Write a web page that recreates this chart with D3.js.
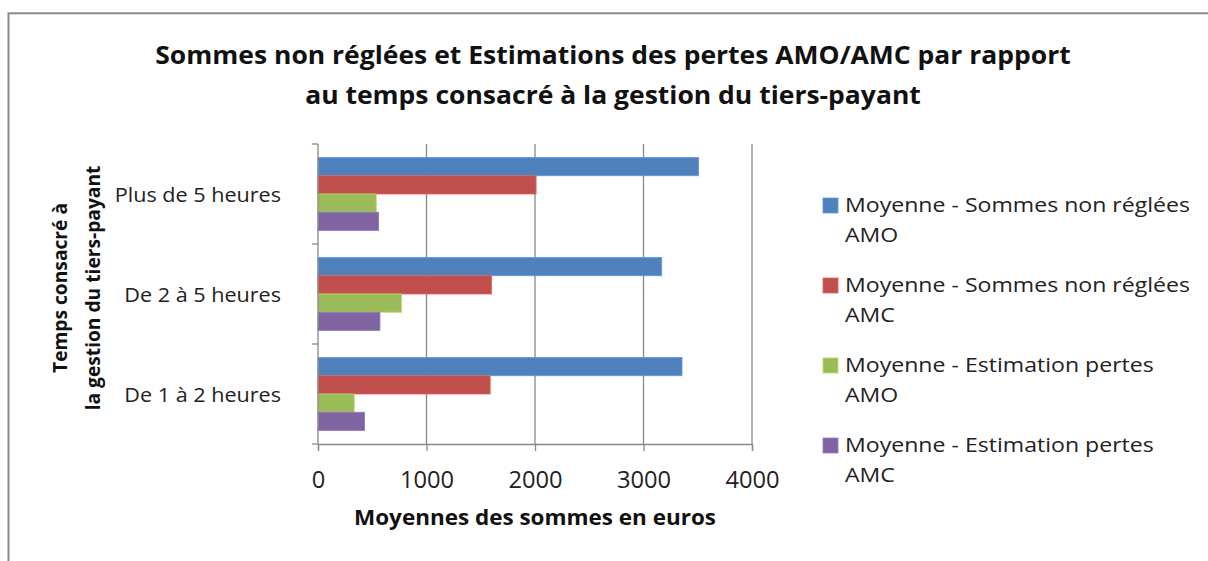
<!DOCTYPE html>
<html>
<head>
<meta charset="utf-8">
<script src="https://cdn.jsdelivr.net/npm/d3@7"></script>
<style>
  html, body { margin: 0; padding: 0; background: #fff; }
  svg { display: block; font-family: "Open Sans", "Liberation Sans", sans-serif; }
</style>
</head>
<body>
<svg id="chart" width="1208" height="561"></svg>
<script>
// Time spent on third-party payment management (top to bottom)
const categories = ["Plus de 5 heures", "De 2 à 5 heures", "De 1 à 2 heures"];

// Series, in the order drawn inside each group
const seriesNames = [
  "Moyenne - Sommes non réglées AMO",
  "Moyenne - Sommes non réglées AMC",
  "Moyenne - Estimation pertes AMO",
  "Moyenne - Estimation pertes AMC"
];
const seriesColors = ["#4F81BD", "#C0504D", "#9BBB59", "#8064A2"];

// Mean amounts in euros, one array per series, aligned with categories
const nonRegleesAMO = [3508, 3168, 3355];
const nonRegleesAMC = [2010, 1600, 1587];
const pertesAMO     = [537, 771, 334];
const pertesAMC     = [559, 571, 430];
const seriesValues = [nonRegleesAMO, nonRegleesAMC, pertesAMO, pertesAMC];

const xTicks = [0, 1000, 2000, 3000, 4000];

const titleLines = [
  "Sommes non réglées et Estimations des pertes AMO/AMC par rapport",
  "au temps consacré à la gestion du tiers-payant"
];
const xTitle = "Moyennes des sommes en euros";
const yTitleLines = ["Temps consacré à", "la gestion du tiers-payant"];

const svg = d3.select("#chart");
const axisGrey = "#898989";

// Chart frame
svg.append("rect")
  .attr("x", 8.5).attr("y", 13.3)
  .attr("width", 1240).attr("height", 600)
  .attr("fill", "#fff")
  .attr("stroke", "#8a8a8a").attr("stroke-width", 2);

const plot = { left: 318, right: 752, top: 144, bottom: 444 };

const x = d3.scaleLinear().domain([0, 4000]).range([plot.left, plot.right]);
const y = d3.scaleBand().domain(categories).range([plot.top, plot.bottom])
  .paddingInner(0.27).paddingOuter(0.135);
const ySub = d3.scaleBand().domain(d3.range(seriesNames.length))
  .range([0, y.bandwidth()]);

// Places a text line at (px, py) with a horizontal stretch factor
function stretchedText(parent, px, py, sx, str, anchor) {
  return parent.append("g")
    .attr("transform", `translate(${px},${py}) scale(${sx},1)`)
    .append("text")
    .attr("text-anchor", anchor)
    .text(str);
}

// Vertical gridlines
svg.append("g")
  .selectAll("line")
  .data(xTicks.slice(1))
  .join("line")
  .attr("x1", d => x(d)).attr("x2", d => x(d))
  .attr("y1", plot.top).attr("y2", plot.bottom)
  .attr("stroke", axisGrey).attr("stroke-width", 1.3);

// Bars
const groups = svg.append("g")
  .selectAll("g")
  .data(categories)
  .join("g")
  .attr("transform", c => `translate(0,${y(c)})`);

groups.selectAll("rect")
  .data((c, ci) => seriesValues.map((vals, si) => ({ si, v: vals[ci] })))
  .join("rect")
  .attr("x", x(0))
  .attr("y", d => ySub(d.si))
  .attr("width", d => x(d.v) - x(0))
  .attr("height", ySub.bandwidth())
  .attr("fill", d => seriesColors[d.si])
  .attr("stroke", d => d3.color(seriesColors[d.si]).brighter(0.5))
  .attr("stroke-width", 0.8);

// X axis
const xAxis = svg.append("g")
  .attr("transform", `translate(0,${plot.bottom})`)
  .call(d3.axisBottom(x).tickValues(xTicks).tickSize(7).tickFormat(d3.format("d")));
xAxis.select(".domain").attr("stroke", axisGrey).attr("stroke-width", 1.3);
xAxis.selectAll(".tick line").attr("stroke", axisGrey).attr("stroke-width", 1.3);
xAxis.selectAll(".tick text")
  .attr("y", 44).attr("dy", 0)
  .attr("transform", "scale(1.03,1)")
  .attr("font-family", "Open Sans").attr("font-size", 23).attr("fill", "#222");

// Y axis: line plus tick marks between categories
svg.append("line")
  .attr("x1", plot.left).attr("x2", plot.left)
  .attr("y1", plot.top).attr("y2", plot.bottom)
  .attr("stroke", axisGrey).attr("stroke-width", 1.3);
const yBounds = d3.range(categories.length + 1)
  .map(i => plot.top + i * (plot.bottom - plot.top) / categories.length);
svg.append("g").selectAll("line")
  .data(yBounds)
  .join("line")
  .attr("x1", plot.left - 6).attr("x2", plot.left)
  .attr("y1", d => d).attr("y2", d => d)
  .attr("stroke", axisGrey).attr("stroke-width", 1.3);

// Category labels
const catLayer = svg.append("g").attr("font-size", 20).attr("fill", "#222");
categories.forEach(c => {
  stretchedText(catLayer, 281, y(c) + y.bandwidth() / 2 + 8, 1.08, c, "end");
});

// Chart title
const titleLayer = svg.append("g")
  .attr("font-size", 25).attr("font-weight", "bold").attr("fill", "#111");
titleLines.forEach((t, i) => {
  stretchedText(titleLayer, 613, 64 + i * 40, 1.06, t, "middle");
});

// X axis title
const xTitleLayer = svg.append("g")
  .attr("font-size", 21).attr("font-weight", "bold").attr("fill", "#111");
stretchedText(xTitleLayer, (plot.left + plot.right) / 2, 525, 1.07, xTitle, "middle");

// Y axis title, rotated, two lines
const yTitleLayer = svg.append("g")
  .attr("transform", "translate(0,288) rotate(-90)")
  .attr("font-size", 20).attr("font-weight", "bold").attr("fill", "#111");
yTitleLines.forEach((t, i) => {
  stretchedText(yTitleLayer, 0, 67 + i * 33, 0.96, t, "middle");
});

// Legend, each label wrapped before its last word
const legend = svg.append("g").selectAll("g")
  .data(seriesNames)
  .join("g")
  .attr("transform", (d, i) => `translate(823,${198 + i * 80})`);

legend.append("rect")
  .attr("width", 15).attr("height", 15)
  .attr("fill", (d, i) => seriesColors[i])
  .attr("stroke", (d, i) => d3.color(seriesColors[i]).brighter(0.5))
  .attr("stroke-width", 0.8);

legend.each(function (d) {
  const k = d.lastIndexOf(" ");
  const g = d3.select(this).append("g")
    .attr("font-size", 20).attr("fill", "#222");
  [d.slice(0, k), d.slice(k + 1)].forEach((line, i) => {
    stretchedText(g, 22, 14 + i * 30, 1.155, line, "start");
  });
});
</script>
</body>
</html>
